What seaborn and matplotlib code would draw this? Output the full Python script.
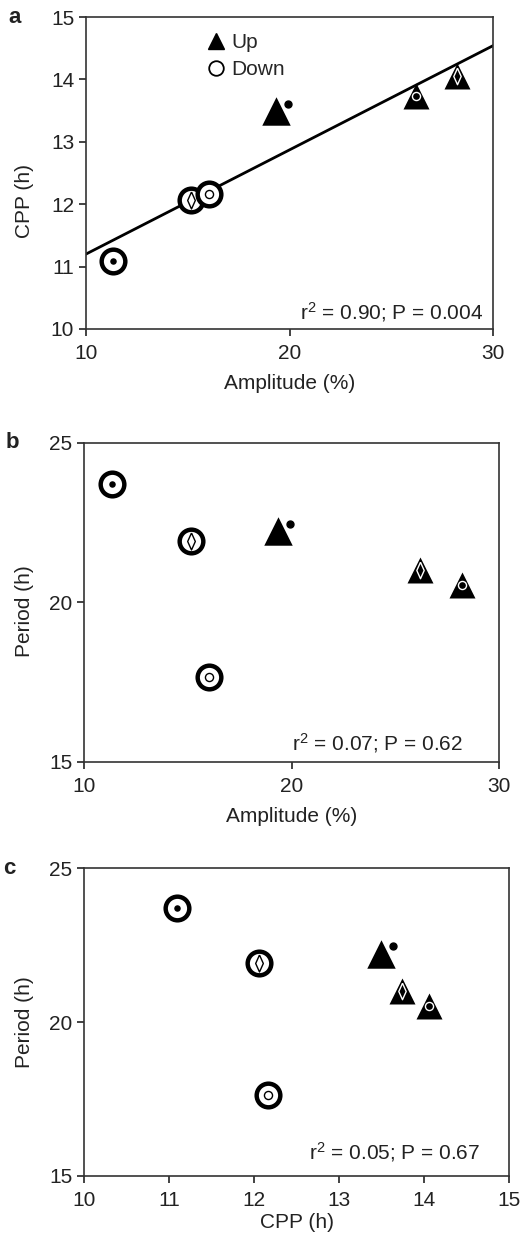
"""
plot.py
-------
Amplitude / CPP / period scatter panels (a, b, c) with Up/Down groups.
"""

import matplotlib
matplotlib.use("Agg")
import matplotlib.pyplot as plt
from matplotlib.lines import Line2D
import seaborn as sns
import pandas as pd

# per-subject values
group = ["Down", "Down", "Down", "Up", "Up", "Up"]
amplitude = [11.31, 15.14, 16.03, 19.35, 26.21, 28.23]
cpp = [11.09, 12.06, 12.16, 13.49, 13.74, 14.06]
period = [23.72, 21.93, 17.64, 22.22, 21.02, 20.53]
# inner symbol of each subject (panel a shows the two right triangles swapped)
inner_bc = ["dot", "diamond", "ring", "side", "diamond", "ring"]
inner_a = ["dot", "diamond", "ring", "side", "ring", "diamond"]
big = [False, False, False, True, False, False]

stats_text = ["r$^2$ = 0.90; P = 0.004", "r$^2$ = 0.07; P = 0.62", "r$^2$ = 0.05; P = 0.67"]

df = pd.DataFrame({"group": group, "amplitude": amplitude, "cpp": cpp,
                   "period": period, "inner_a": inner_a, "inner_bc": inner_bc, "big": big})

sns.set_style("ticks")
plt.rcParams["font.family"] = ["Liberation Sans", "DejaVu Sans"]
plt.rcParams["mathtext.default"] = "regular"
plt.rcParams["axes.edgecolor"] = "#333333"
plt.rcParams["axes.linewidth"] = 1.2

FS = 15
NARROW_DIAMOND = [(0, 1), (0.45, 0), (0, -1), (-0.45, 0), (0, 1)]

fig = plt.figure(figsize=(5.24, 12.41), dpi=100)
ax_a = fig.add_axes([0.164, 0.7349, 0.777, 0.2514])
ax_b = fig.add_axes([0.161, 0.3862, 0.791, 0.2571])
ax_c = fig.add_axes([0.161, 0.0524, 0.811, 0.2479])


def draw_points(ax, x, y, inner_col):
    down = df[df["group"] == "Down"]
    up = df[df["group"] == "Up"]
    sns.scatterplot(data=down, x=x, y=y, ax=ax, marker="o", s=290, facecolor="white",
                    edgecolor="black", linewidth=3.2, zorder=3, legend=False)
    sns.scatterplot(data=up[up["big"]], x=x, y=y, ax=ax, marker="^", s=420, color="black",
                    linewidth=0, zorder=3, legend=False)
    sns.scatterplot(data=up[~up["big"]], x=x, y=y, ax=ax, marker="^", s=350, color="black",
                    linewidth=0, zorder=3, legend=False)
    # inner symbols: black outline on white circles, white outline on black triangles
    for grp, face, edge, ds in [("Down", "white", "black", 150), ("Up", "black", "white", 140)]:
        sub = df[df["group"] == grp]
        dots = sub[sub[inner_col] == "dot"]
        sns.scatterplot(data=dots, x=x, y=y, ax=ax, marker="o", s=22, color="black",
                        linewidth=0, zorder=4, legend=False)
        dia = sub[sub[inner_col] == "diamond"]
        ax.scatter(dia[x], dia[y], marker=NARROW_DIAMOND, s=ds, facecolor=face,
                   edgecolor=edge, linewidth=1.0, zorder=4)
        ring = sub[sub[inner_col] == "ring"]
        sns.scatterplot(data=ring, x=x, y=y, ax=ax, marker="o", s=34, facecolor=face,
                        edgecolor=edge, linewidth=1.0, zorder=4, legend=False)
    # the single dot placed beside the large triangle
    side = df[df[inner_col] == "side"]
    ax.plot(side[x], side[y], linestyle="none", marker="o", markersize=5.0, color="black",
            transform=ax.transData + matplotlib.transforms.ScaledTranslation(
                8.3 / 72, 5.4 / 72, fig.dpi_scale_trans), zorder=4)


def style_axes(ax, xlabel, ylabel, xticks, yticks, letter, text, tx, ty, xpad, ylab_xy):
    ax.set_xticks(xticks)
    ax.set_yticks(yticks)
    ax.set_xlabel(xlabel, fontsize=FS, color="#222222", labelpad=xpad)
    ax.set_ylabel(ylabel, fontsize=FS, color="#222222")
    ax.yaxis.set_label_coords(*ylab_xy)
    ax.tick_params(labelsize=FS, length=5, width=1.2, colors="#222222", direction="out")
    ax.tick_params(axis="x", pad=6)
    for side in ["top", "right", "left", "bottom"]:
        ax.spines[side].set_visible(True)
    ax.text(tx, ty, text, transform=ax.transAxes, ha="right", va="center",
            fontsize=FS, color="#222222")
    ax.text(-0.19, 1.0, letter, transform=ax.transAxes, ha="left", va="center",
            fontsize=16, fontweight="bold", color="#222222")


# panel a
ax_a.set_xlim(10, 30)
ax_a.set_ylim(10, 15)
sns.regplot(data=df, x="amplitude", y="cpp", ax=ax_a, scatter=False, ci=None, truncate=False,
            line_kws={"color": "black", "linewidth": 2.0, "zorder": 2})
ax_a.set_xlim(10, 30)
ax_a.set_ylim(10, 15)
draw_points(ax_a, "amplitude", "cpp", "inner_a")
style_axes(ax_a, "Amplitude (%)", "CPP (h)", [10, 20, 30],
           [10, 11, 12, 13, 14, 15], "a", stats_text[0], 0.975, 0.055, 8, (-0.128, 0.41))
handles = [Line2D([], [], linestyle="none", marker="^", markersize=12, color="black"),
           Line2D([], [], linestyle="none", marker="o", markersize=10.5, markerfacecolor="white",
                  markeredgecolor="black", markeredgewidth=1.3)]
ax_a.legend(handles, ["Up", "Down"], loc="upper left", bbox_to_anchor=(0.262, 0.995), frameon=False,
            fontsize=FS, handlelength=0.8, handletextpad=0.35, labelspacing=0.4, borderpad=0.2)

# panel b
ax_b.set_xlim(10, 30)
ax_b.set_ylim(15, 25)
draw_points(ax_b, "amplitude", "period", "inner_bc")
style_axes(ax_b, "Amplitude (%)", "Period (h)", [10, 20, 30],
           [15, 20, 25], "b", stats_text[1], 0.913, 0.06, 8, (-0.121, 0.472))

# panel c
ax_c.set_xlim(10, 15)
ax_c.set_ylim(15, 25)
draw_points(ax_c, "cpp", "period", "inner_bc")
style_axes(ax_c, "CPP (h)", "Period (h)", [10, 11, 12, 13, 14, 15],
           [15, 20, 25], "c", stats_text[2], 0.931, 0.079, 2, (-0.119, 0.5))

fig.savefig("out.png", dpi=100)
plt.close(fig)
